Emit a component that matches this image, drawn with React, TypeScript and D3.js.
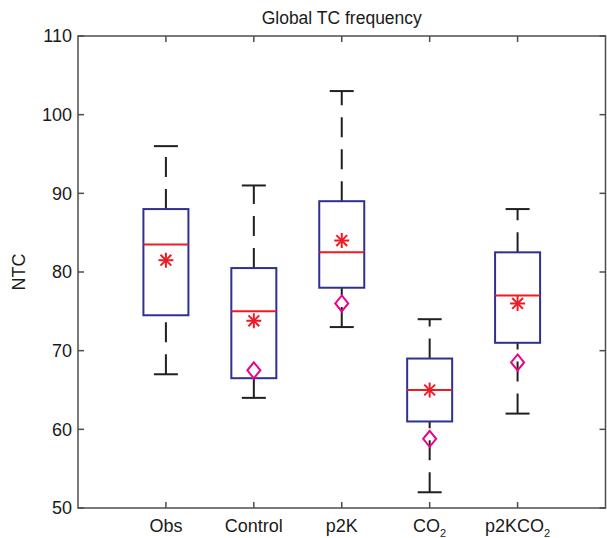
import React from "react";
import * as d3 from "d3";

const categories = ["Obs", "Control", "p2K", "CO2", "p2KCO2"];
const lowerWhisker = [67, 64, 73, 52, 62];
const q1 = [74.5, 66.5, 78, 61, 71];
const medians = [83.5, 75, 82.5, 65, 77];
const q3 = [88, 80.5, 89, 69, 82.5];
const upperWhisker = [96, 91, 103, 74, 88];
const means = [81.5, 73.8, 84, 65, 76];
const diamonds: (number | null)[] = [null, 67.5, 76, 58.8, 68.5];
const yTicks = [50, 60, 70, 80, 90, 100, 110];

const W = 607;
const H = 538;
const left = 78;
const right = 605.5;
const top = 36;
const bottom = 508;
const FONT = "'Liberation Sans', Arial, Helvetica, sans-serif";
const FS = 18;

const axisColor = "#4d4d4d";
const boxColor = "#2e3192";
const medColor = "#ed1c24";
const starColor = "#ed1c24";
const diaColor = "#ec008c";
const whiskColor = "#231f20";

function Label({ text, x, y }: { text: string; x: number; y: number }) {
  const m = text.match(/^(.*CO)2$/);
  if (m) {
    return (
      <text x={x} y={y} textAnchor="middle" fontSize={FS} fontFamily={FONT} fill="#1a1a1a">
        {m[1]}
        <tspan fontSize={11} dy={5}>2</tspan>
      </text>
    );
  }
  return (
    <text x={x} y={y} textAnchor="middle" fontSize={FS} fontFamily={FONT} fill="#1a1a1a">
      {text}
    </text>
  );
}

export default function App() {
  const x = d3.scaleLinear().domain([0, 6]).range([left, right]);
  const y = d3.scaleLinear().domain([50, 110]).range([bottom, top]);
  const boxHalf = 22.5;
  const capHalf = 12;
  const starR = 7.5;
  const diaW = 6.5;
  const diaH = 8;

  return (
    <svg width={W} height={H} style={{ position: "absolute", left: 0, top: 0 }}>
      <rect x={0} y={0} width={W} height={H} fill="#fff" />
      <text x={(left + right) / 2} y={24} textAnchor="middle" fontSize={17.5} fontFamily={FONT} fill="#1a1a1a">
        Global TC frequency
      </text>
      <text
        transform={`translate(25,${(top + bottom) / 2}) rotate(-90)`}
        textAnchor="middle"
        fontSize={FS}
        fontFamily={FONT}
        fill="#1a1a1a"
      >
        NTC
      </text>
      {categories.map((c, i) => {
        const cx = x(i + 1);
        const star = means[i];
        const d = diamonds[i];
        return (
          <g key={c}>
            <line
              x1={cx}
              x2={cx}
              y1={y(lowerWhisker[i])}
              y2={y(q1[i])}
              stroke={whiskColor}
              strokeWidth={2}
              strokeDasharray="20 12"
            />
            <line
              x1={cx}
              x2={cx}
              y1={y(q3[i])}
              y2={y(upperWhisker[i])}
              stroke={whiskColor}
              strokeWidth={2}
              strokeDasharray="20 12"
            />
            <line x1={cx - capHalf} x2={cx + capHalf} y1={y(lowerWhisker[i])} y2={y(lowerWhisker[i])} stroke={whiskColor} strokeWidth={2} />
            <line x1={cx - capHalf} x2={cx + capHalf} y1={y(upperWhisker[i])} y2={y(upperWhisker[i])} stroke={whiskColor} strokeWidth={2} />
            <rect
              x={cx - boxHalf}
              y={y(q3[i])}
              width={boxHalf * 2}
              height={y(q1[i]) - y(q3[i])}
              fill="none"
              stroke={boxColor}
              strokeWidth={2}
            />
            <line x1={cx - boxHalf} x2={cx + boxHalf} y1={y(medians[i])} y2={y(medians[i])} stroke={medColor} strokeWidth={2} />
            <g transform={`translate(${cx},${y(star)})`} stroke={starColor} strokeWidth={2}>
              <line x1={-starR} x2={starR} y1={0} y2={0} />
              <line x1={0} x2={0} y1={-starR} y2={starR} />
              <line x1={-starR * 0.72} x2={starR * 0.72} y1={-starR * 0.72} y2={starR * 0.72} />
              <line x1={-starR * 0.72} x2={starR * 0.72} y1={starR * 0.72} y2={-starR * 0.72} />
            </g>
            {d !== null && (
              <path
                d={`M${cx},${y(d) - diaH} L${cx + diaW},${y(d)} L${cx},${y(d) + diaH} L${cx - diaW},${y(d)} Z`}
                fill="none"
                stroke={diaColor}
                strokeWidth={2}
              />
            )}
          </g>
        );
      })}
      <rect x={left} y={top} width={right - left} height={bottom - top} fill="none" stroke={axisColor} strokeWidth={1.5} />
      {yTicks.map((t) => (
        <g key={t}>
          <line x1={left} x2={left + 6} y1={y(t)} y2={y(t)} stroke={axisColor} strokeWidth={1.5} />
          <line x1={right} x2={right - 6} y1={y(t)} y2={y(t)} stroke={axisColor} strokeWidth={1.5} />
          <text x={left - 6} y={y(t)} dy="0.35em" textAnchor="end" fontSize={FS} fontFamily={FONT} fill="#1a1a1a">
            {t}
          </text>
        </g>
      ))}
      {categories.map((c, i) => (
        <g key={"xt" + c}>
          <line x1={x(i + 1)} x2={x(i + 1)} y1={bottom} y2={bottom - 6} stroke={axisColor} strokeWidth={1.5} />
          <line x1={x(i + 1)} x2={x(i + 1)} y1={top} y2={top + 6} stroke={axisColor} strokeWidth={1.5} />
          <Label text={c} x={x(i + 1)} y={532} />
        </g>
      ))}
    </svg>
  );
}
